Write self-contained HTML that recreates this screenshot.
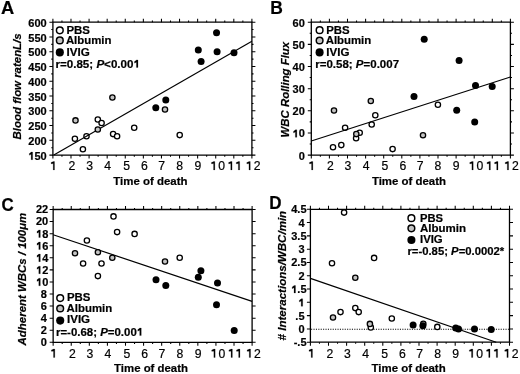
<!DOCTYPE html><html><head><meta charset="utf-8"><style>html,body{margin:0;padding:0;background:#fff;width:520px;height:374px;overflow:hidden}svg{display:block;filter:grayscale(1) blur(0.4px)}text,.g1{stroke:#000;stroke-width:0.2px;vector-effect:non-scaling-stroke}</style></head><body>
<svg width="520" height="374" viewBox="0 0 520 374" font-family='"Liberation Sans", sans-serif'>
<rect width="520" height="374" fill="#fff"/>
<path d="M52.9,22.2H251.9V155.1H52.9Z" fill="none" stroke="#000" stroke-width="1.3"/><path d="M52.90,155.1v3.5M52.90,22.2v-3.5M61.95,155.1v1.6M61.95,22.2v-1.6M70.99,155.1v3.5M70.99,22.2v-3.5M80.04,155.1v1.6M80.04,22.2v-1.6M89.08,155.1v3.5M89.08,22.2v-3.5M98.13,155.1v1.6M98.13,22.2v-1.6M107.17,155.1v3.5M107.17,22.2v-3.5M116.22,155.1v1.6M116.22,22.2v-1.6M125.26,155.1v3.5M125.26,22.2v-3.5M134.31,155.1v1.6M134.31,22.2v-1.6M143.35,155.1v3.5M143.35,22.2v-3.5M152.40,155.1v1.6M152.40,22.2v-1.6M161.45,155.1v3.5M161.45,22.2v-3.5M170.49,155.1v1.6M170.49,22.2v-1.6M179.54,155.1v3.5M179.54,22.2v-3.5M188.58,155.1v1.6M188.58,22.2v-1.6M197.63,155.1v3.5M197.63,22.2v-3.5M206.67,155.1v1.6M206.67,22.2v-1.6M215.72,155.1v3.5M215.72,22.2v-3.5M224.76,155.1v1.6M224.76,22.2v-1.6M233.81,155.1v3.5M233.81,22.2v-3.5M242.85,155.1v1.6M242.85,22.2v-1.6M251.90,155.1v3.5M251.90,22.2v-3.5M52.9,155.10h-3.5M251.9,155.10h3.5M52.9,140.33h-3.5M251.9,140.33h3.5M52.9,125.57h-3.5M251.9,125.57h3.5M52.9,110.80h-3.5M251.9,110.80h3.5M52.9,96.03h-3.5M251.9,96.03h3.5M52.9,81.27h-3.5M251.9,81.27h3.5M52.9,66.50h-3.5M251.9,66.50h3.5M52.9,51.73h-3.5M251.9,51.73h3.5M52.9,36.97h-3.5M251.9,36.97h3.5M52.9,22.20h-3.5M251.9,22.20h3.5M52.9,147.72h-1.6M251.9,147.72h1.6M52.9,132.95h-1.6M251.9,132.95h1.6M52.9,118.18h-1.6M251.9,118.18h1.6M52.9,103.42h-1.6M251.9,103.42h1.6M52.9,88.65h-1.6M251.9,88.65h1.6M52.9,73.88h-1.6M251.9,73.88h1.6M52.9,59.12h-1.6M251.9,59.12h1.6M52.9,44.35h-1.6M251.9,44.35h1.6M52.9,29.58h-1.6M251.9,29.58h1.6" fill="none" stroke="#000" stroke-width="1.05"/>
<path class="g1" transform="translate(28.35,159.65) scale(0.00537,-0.00537)" d="M520 0V1000Q330 900 180 814V1130Q380 1230 540 1409H800V0Z"/><text x="34.46" y="159.65" font-size="11" font-weight="bold">50</text>
<text x="28.35" y="144.88" font-size="11" font-weight="bold">200</text>
<text x="28.35" y="130.12" font-size="11" font-weight="bold">250</text>
<text x="28.35" y="115.35" font-size="11" font-weight="bold">300</text>
<text x="28.35" y="100.58" font-size="11" font-weight="bold">350</text>
<text x="28.35" y="85.82" font-size="11" font-weight="bold">400</text>
<text x="28.35" y="71.05" font-size="11" font-weight="bold">450</text>
<text x="28.35" y="56.28" font-size="11" font-weight="bold">500</text>
<text x="28.35" y="41.52" font-size="11" font-weight="bold">550</text>
<text x="28.35" y="26.75" font-size="11" font-weight="bold">600</text>
<path class="g1" transform="translate(49.66,169.90) scale(0.00596,-0.00596)" d="M595 0V1060Q420 1030 233 1030V1250Q430 1290 610 1409H813V0Z"/><path class="g1" transform="translate(210.01,169.90) scale(0.00596,-0.00596)" d="M595 0V1060Q420 1030 233 1030V1250Q430 1290 610 1409H813V0Z"/><path class="g1" transform="translate(227.21,169.90) scale(0.00596,-0.00596)" d="M595 0V1060Q420 1030 233 1030V1250Q430 1290 610 1409H813V0Z"/><path class="g1" transform="translate(234.81,169.90) scale(0.00596,-0.00596)" d="M595 0V1060Q420 1030 233 1030V1250Q430 1290 610 1409H813V0Z"/><path class="g1" transform="translate(245.41,169.90) scale(0.00596,-0.00596)" d="M595 0V1060Q420 1030 233 1030V1250Q430 1290 610 1409H813V0Z"/><text x="72.00" y="169.90" font-size="12.2" text-anchor="middle">2</text><text x="89.55" y="169.90" font-size="12.2" text-anchor="middle">3</text><text x="107.70" y="169.90" font-size="12.2" text-anchor="middle">4</text><text x="126.60" y="169.90" font-size="12.2" text-anchor="middle">5</text><text x="144.45" y="169.90" font-size="12.2" text-anchor="middle">6</text><text x="161.70" y="169.90" font-size="12.2" text-anchor="middle">7</text><text x="179.60" y="169.90" font-size="12.2" text-anchor="middle">8</text><text x="197.80" y="169.90" font-size="12.2" text-anchor="middle">9</text><text x="221.60" y="169.90" font-size="12.2" text-anchor="middle">0</text><text x="257.10" y="169.90" font-size="12.2" text-anchor="middle">2</text>
<g transform="translate(113.30,184.70) scale(1.0411,1.0000)"><text font-size="11" font-weight="bold">Time of death</text></g>
<g transform="translate(0.90,13.80) scale(1.0000,1.0000)"><text font-size="18.3" font-weight="bold">A</text></g>
<g transform="translate(21.40,139.40) rotate(-90) scale(1.0038,1)"><text font-size="11.4" font-weight="bold" font-style="italic">Blood flow ratenL/s</text></g>
<path d="M311.3,22.2H510.4V155.1H311.3Z" fill="none" stroke="#000" stroke-width="1.3"/><path d="M311.30,155.1v3.5M311.30,22.2v-3.5M320.35,155.1v1.6M320.35,22.2v-1.6M329.40,155.1v3.5M329.40,22.2v-3.5M338.45,155.1v1.6M338.45,22.2v-1.6M347.50,155.1v3.5M347.50,22.2v-3.5M356.55,155.1v1.6M356.55,22.2v-1.6M365.60,155.1v3.5M365.60,22.2v-3.5M374.65,155.1v1.6M374.65,22.2v-1.6M383.70,155.1v3.5M383.70,22.2v-3.5M392.75,155.1v1.6M392.75,22.2v-1.6M401.80,155.1v3.5M401.80,22.2v-3.5M410.85,155.1v1.6M410.85,22.2v-1.6M419.90,155.1v3.5M419.90,22.2v-3.5M428.95,155.1v1.6M428.95,22.2v-1.6M438.00,155.1v3.5M438.00,22.2v-3.5M447.05,155.1v1.6M447.05,22.2v-1.6M456.10,155.1v3.5M456.10,22.2v-3.5M465.15,155.1v1.6M465.15,22.2v-1.6M474.20,155.1v3.5M474.20,22.2v-3.5M483.25,155.1v1.6M483.25,22.2v-1.6M492.30,155.1v3.5M492.30,22.2v-3.5M501.35,155.1v1.6M501.35,22.2v-1.6M510.40,155.1v3.5M510.40,22.2v-3.5M311.3,155.10h-3.5M510.4,155.10h3.5M311.3,132.95h-3.5M510.4,132.95h3.5M311.3,110.80h-3.5M510.4,110.80h3.5M311.3,88.65h-3.5M510.4,88.65h3.5M311.3,66.50h-3.5M510.4,66.50h3.5M311.3,44.35h-3.5M510.4,44.35h3.5M311.3,22.20h-3.5M510.4,22.20h3.5M311.3,144.03h-1.6M510.4,144.03h1.6M311.3,121.88h-1.6M510.4,121.88h1.6M311.3,99.72h-1.6M510.4,99.72h1.6M311.3,77.57h-1.6M510.4,77.57h1.6M311.3,55.42h-1.6M510.4,55.42h1.6M311.3,33.27h-1.6M510.4,33.27h1.6" fill="none" stroke="#000" stroke-width="1.05"/>
<text x="298.68" y="159.50" font-size="11" font-weight="bold">0</text>
<path class="g1" transform="translate(292.56,137.35) scale(0.00537,-0.00537)" d="M520 0V1000Q330 900 180 814V1130Q380 1230 540 1409H800V0Z"/><text x="298.68" y="137.35" font-size="11" font-weight="bold">0</text>
<text x="292.56" y="115.20" font-size="11" font-weight="bold">20</text>
<text x="292.56" y="93.05" font-size="11" font-weight="bold">30</text>
<text x="292.56" y="70.90" font-size="11" font-weight="bold">40</text>
<text x="292.56" y="48.75" font-size="11" font-weight="bold">50</text>
<text x="292.56" y="26.60" font-size="11" font-weight="bold">60</text>
<path class="g1" transform="translate(308.01,169.90) scale(0.00596,-0.00596)" d="M595 0V1060Q420 1030 233 1030V1250Q430 1290 610 1409H813V0Z"/><path class="g1" transform="translate(468.36,169.90) scale(0.00596,-0.00596)" d="M595 0V1060Q420 1030 233 1030V1250Q430 1290 610 1409H813V0Z"/><path class="g1" transform="translate(485.56,169.90) scale(0.00596,-0.00596)" d="M595 0V1060Q420 1030 233 1030V1250Q430 1290 610 1409H813V0Z"/><path class="g1" transform="translate(493.16,169.90) scale(0.00596,-0.00596)" d="M595 0V1060Q420 1030 233 1030V1250Q430 1290 610 1409H813V0Z"/><path class="g1" transform="translate(503.76,169.90) scale(0.00596,-0.00596)" d="M595 0V1060Q420 1030 233 1030V1250Q430 1290 610 1409H813V0Z"/><text x="330.35" y="169.90" font-size="12.2" text-anchor="middle">2</text><text x="347.90" y="169.90" font-size="12.2" text-anchor="middle">3</text><text x="366.05" y="169.90" font-size="12.2" text-anchor="middle">4</text><text x="384.95" y="169.90" font-size="12.2" text-anchor="middle">5</text><text x="402.80" y="169.90" font-size="12.2" text-anchor="middle">6</text><text x="420.05" y="169.90" font-size="12.2" text-anchor="middle">7</text><text x="437.95" y="169.90" font-size="12.2" text-anchor="middle">8</text><text x="456.15" y="169.90" font-size="12.2" text-anchor="middle">9</text><text x="479.95" y="169.90" font-size="12.2" text-anchor="middle">0</text><text x="515.45" y="169.90" font-size="12.2" text-anchor="middle">2</text>
<g transform="translate(371.90,184.60) scale(1.0397,1.0000)"><text font-size="11" font-weight="bold">Time of death</text></g>
<g transform="translate(270.25,13.60) scale(0.9554,1.0000)"><text font-size="18.3" font-weight="bold">B</text></g>
<g transform="translate(289.00,137.40) rotate(-90) scale(1.0000,1)"><text font-size="11.4" font-weight="bold" font-style="italic">WBC Rolling Flux</text></g>
<path d="M53.15,209.5H252.1V342.3H53.15Z" fill="none" stroke="#000" stroke-width="1.3"/><path d="M53.15,342.3v3.5M53.15,209.5v-3.5M62.19,342.3v1.6M62.19,209.5v-1.6M71.24,342.3v3.5M71.24,209.5v-3.5M80.28,342.3v1.6M80.28,209.5v-1.6M89.32,342.3v3.5M89.32,209.5v-3.5M98.37,342.3v1.6M98.37,209.5v-1.6M107.41,342.3v3.5M107.41,209.5v-3.5M116.45,342.3v1.6M116.45,209.5v-1.6M125.50,342.3v3.5M125.50,209.5v-3.5M134.54,342.3v1.6M134.54,209.5v-1.6M143.58,342.3v3.5M143.58,209.5v-3.5M152.62,342.3v1.6M152.62,209.5v-1.6M161.67,342.3v3.5M161.67,209.5v-3.5M170.71,342.3v1.6M170.71,209.5v-1.6M179.75,342.3v3.5M179.75,209.5v-3.5M188.80,342.3v1.6M188.80,209.5v-1.6M197.84,342.3v3.5M197.84,209.5v-3.5M206.88,342.3v1.6M206.88,209.5v-1.6M215.93,342.3v3.5M215.93,209.5v-3.5M224.97,342.3v1.6M224.97,209.5v-1.6M234.01,342.3v3.5M234.01,209.5v-3.5M243.06,342.3v1.6M243.06,209.5v-1.6M252.10,342.3v3.5M252.10,209.5v-3.5M53.15,342.30h-3.5M252.1,342.30h3.5M53.15,330.23h-3.5M252.1,330.23h3.5M53.15,318.15h-3.5M252.1,318.15h3.5M53.15,306.08h-3.5M252.1,306.08h3.5M53.15,294.01h-3.5M252.1,294.01h3.5M53.15,281.94h-3.5M252.1,281.94h3.5M53.15,269.86h-3.5M252.1,269.86h3.5M53.15,257.79h-3.5M252.1,257.79h3.5M53.15,245.72h-3.5M252.1,245.72h3.5M53.15,233.65h-3.5M252.1,233.65h3.5M53.15,221.57h-3.5M252.1,221.57h3.5M53.15,209.50h-3.5M252.1,209.50h3.5" fill="none" stroke="#000" stroke-width="1.05"/>
<text x="40.63" y="346.15" font-size="11" font-weight="bold">0</text>
<text x="40.63" y="334.08" font-size="11" font-weight="bold">2</text>
<text x="40.63" y="322.00" font-size="11" font-weight="bold">4</text>
<text x="40.63" y="309.93" font-size="11" font-weight="bold">6</text>
<text x="40.63" y="297.86" font-size="11" font-weight="bold">8</text>
<path class="g1" transform="translate(36.01,285.79) scale(0.00537,-0.00537)" d="M520 0V1000Q330 900 180 814V1130Q380 1230 540 1409H800V0Z"/><text x="42.13" y="285.79" font-size="11" font-weight="bold">0</text>
<path class="g1" transform="translate(36.01,273.71) scale(0.00537,-0.00537)" d="M520 0V1000Q330 900 180 814V1130Q380 1230 540 1409H800V0Z"/><text x="42.13" y="273.71" font-size="11" font-weight="bold">2</text>
<path class="g1" transform="translate(36.01,261.64) scale(0.00537,-0.00537)" d="M520 0V1000Q330 900 180 814V1130Q380 1230 540 1409H800V0Z"/><text x="42.13" y="261.64" font-size="11" font-weight="bold">4</text>
<path class="g1" transform="translate(36.01,249.57) scale(0.00537,-0.00537)" d="M520 0V1000Q330 900 180 814V1130Q380 1230 540 1409H800V0Z"/><text x="42.13" y="249.57" font-size="11" font-weight="bold">6</text>
<path class="g1" transform="translate(36.01,237.50) scale(0.00537,-0.00537)" d="M520 0V1000Q330 900 180 814V1130Q380 1230 540 1409H800V0Z"/><text x="42.13" y="237.50" font-size="11" font-weight="bold">8</text>
<text x="36.01" y="225.42" font-size="11" font-weight="bold">20</text>
<text x="36.01" y="213.35" font-size="11" font-weight="bold">22</text>
<path class="g1" transform="translate(49.96,357.50) scale(0.00596,-0.00596)" d="M595 0V1060Q420 1030 233 1030V1250Q430 1290 610 1409H813V0Z"/><path class="g1" transform="translate(210.31,357.50) scale(0.00596,-0.00596)" d="M595 0V1060Q420 1030 233 1030V1250Q430 1290 610 1409H813V0Z"/><path class="g1" transform="translate(227.51,357.50) scale(0.00596,-0.00596)" d="M595 0V1060Q420 1030 233 1030V1250Q430 1290 610 1409H813V0Z"/><path class="g1" transform="translate(235.11,357.50) scale(0.00596,-0.00596)" d="M595 0V1060Q420 1030 233 1030V1250Q430 1290 610 1409H813V0Z"/><path class="g1" transform="translate(245.71,357.50) scale(0.00596,-0.00596)" d="M595 0V1060Q420 1030 233 1030V1250Q430 1290 610 1409H813V0Z"/><text x="72.30" y="357.50" font-size="12.2" text-anchor="middle">2</text><text x="89.85" y="357.50" font-size="12.2" text-anchor="middle">3</text><text x="108.00" y="357.50" font-size="12.2" text-anchor="middle">4</text><text x="126.90" y="357.50" font-size="12.2" text-anchor="middle">5</text><text x="144.75" y="357.50" font-size="12.2" text-anchor="middle">6</text><text x="162.00" y="357.50" font-size="12.2" text-anchor="middle">7</text><text x="179.90" y="357.50" font-size="12.2" text-anchor="middle">8</text><text x="198.10" y="357.50" font-size="12.2" text-anchor="middle">9</text><text x="221.90" y="357.50" font-size="12.2" text-anchor="middle">0</text><text x="257.40" y="357.50" font-size="12.2" text-anchor="middle">2</text>
<g transform="translate(114.10,371.90) scale(1.0369,1.0000)"><text font-size="11" font-weight="bold">Time of death</text></g>
<g transform="translate(1.56,210.50) scale(0.9244,1.0000)"><text font-size="18.3" font-weight="bold">C</text></g>
<g transform="translate(26.00,345.40) rotate(-90) scale(1.0045,1)"><text font-size="11.4" font-weight="bold" font-style="italic">Adherent WBCs / 100μm</text></g>
<path d="M310.4,209.3H509.5V342.2H310.4Z" fill="none" stroke="#000" stroke-width="1.3"/><path d="M310.40,342.2v3.5M310.40,209.3v-3.5M319.45,342.2v1.6M319.45,209.3v-1.6M328.50,342.2v3.5M328.50,209.3v-3.5M337.55,342.2v1.6M337.55,209.3v-1.6M346.60,342.2v3.5M346.60,209.3v-3.5M355.65,342.2v1.6M355.65,209.3v-1.6M364.70,342.2v3.5M364.70,209.3v-3.5M373.75,342.2v1.6M373.75,209.3v-1.6M382.80,342.2v3.5M382.80,209.3v-3.5M391.85,342.2v1.6M391.85,209.3v-1.6M400.90,342.2v3.5M400.90,209.3v-3.5M409.95,342.2v1.6M409.95,209.3v-1.6M419.00,342.2v3.5M419.00,209.3v-3.5M428.05,342.2v1.6M428.05,209.3v-1.6M437.10,342.2v3.5M437.10,209.3v-3.5M446.15,342.2v1.6M446.15,209.3v-1.6M455.20,342.2v3.5M455.20,209.3v-3.5M464.25,342.2v1.6M464.25,209.3v-1.6M473.30,342.2v3.5M473.30,209.3v-3.5M482.35,342.2v1.6M482.35,209.3v-1.6M491.40,342.2v3.5M491.40,209.3v-3.5M500.45,342.2v1.6M500.45,209.3v-1.6M509.50,342.2v3.5M509.50,209.3v-3.5M310.4,342.20h-3.5M509.5,342.20h3.5M310.4,328.91h-3.5M509.5,328.91h3.5M310.4,315.62h-3.5M509.5,315.62h3.5M310.4,302.33h-3.5M509.5,302.33h3.5M310.4,289.04h-3.5M509.5,289.04h3.5M310.4,275.75h-3.5M509.5,275.75h3.5M310.4,262.46h-3.5M509.5,262.46h3.5M310.4,249.17h-3.5M509.5,249.17h3.5M310.4,235.88h-3.5M509.5,235.88h3.5M310.4,222.59h-3.5M509.5,222.59h3.5M310.4,209.30h-3.5M509.5,209.30h3.5" fill="none" stroke="#000" stroke-width="1.05"/>
<text x="293.66" y="346.20" font-size="11" font-weight="bold">-.5</text>
<text x="298.38" y="332.91" font-size="11" font-weight="bold">0</text>
<text x="295.33" y="319.62" font-size="11" font-weight="bold">.5</text>
<path class="g1" transform="translate(298.38,306.33) scale(0.00537,-0.00537)" d="M520 0V1000Q330 900 180 814V1130Q380 1230 540 1409H800V0Z"/>
<path class="g1" transform="translate(291.21,293.04) scale(0.00537,-0.00537)" d="M520 0V1000Q330 900 180 814V1130Q380 1230 540 1409H800V0Z"/><text x="297.33" y="293.04" font-size="11" font-weight="bold">.5</text>
<text x="298.38" y="279.75" font-size="11" font-weight="bold">2</text>
<text x="291.21" y="266.46" font-size="11" font-weight="bold">2.5</text>
<text x="298.38" y="253.17" font-size="11" font-weight="bold">3</text>
<text x="291.21" y="239.88" font-size="11" font-weight="bold">3.5</text>
<text x="298.38" y="226.59" font-size="11" font-weight="bold">4</text>
<text x="291.21" y="213.30" font-size="11" font-weight="bold">4.5</text>
<path class="g1" transform="translate(307.61,357.50) scale(0.00596,-0.00596)" d="M595 0V1060Q420 1030 233 1030V1250Q430 1290 610 1409H813V0Z"/><path class="g1" transform="translate(467.96,357.50) scale(0.00596,-0.00596)" d="M595 0V1060Q420 1030 233 1030V1250Q430 1290 610 1409H813V0Z"/><path class="g1" transform="translate(485.16,357.50) scale(0.00596,-0.00596)" d="M595 0V1060Q420 1030 233 1030V1250Q430 1290 610 1409H813V0Z"/><path class="g1" transform="translate(492.76,357.50) scale(0.00596,-0.00596)" d="M595 0V1060Q420 1030 233 1030V1250Q430 1290 610 1409H813V0Z"/><path class="g1" transform="translate(503.36,357.50) scale(0.00596,-0.00596)" d="M595 0V1060Q420 1030 233 1030V1250Q430 1290 610 1409H813V0Z"/><text x="329.95" y="357.50" font-size="12.2" text-anchor="middle">2</text><text x="347.50" y="357.50" font-size="12.2" text-anchor="middle">3</text><text x="365.65" y="357.50" font-size="12.2" text-anchor="middle">4</text><text x="384.55" y="357.50" font-size="12.2" text-anchor="middle">5</text><text x="402.40" y="357.50" font-size="12.2" text-anchor="middle">6</text><text x="419.65" y="357.50" font-size="12.2" text-anchor="middle">7</text><text x="437.55" y="357.50" font-size="12.2" text-anchor="middle">8</text><text x="455.75" y="357.50" font-size="12.2" text-anchor="middle">9</text><text x="479.55" y="357.50" font-size="12.2" text-anchor="middle">0</text><text x="515.05" y="357.50" font-size="12.2" text-anchor="middle">2</text>
<g transform="translate(371.50,371.70) scale(1.0411,1.0000)"><text font-size="11" font-weight="bold">Time of death</text></g>
<g transform="translate(269.19,208.60) scale(0.9286,1.0000)"><text font-size="18.3" font-weight="bold">D</text></g>
<g transform="translate(286.30,340.41) rotate(-90) scale(1.0134,1)"><text font-size="11.4" font-weight="bold" font-style="italic"># Interactions/WBC/min</text></g>
<path d="M311.1,329.25H509" stroke="#000" stroke-width="1" stroke-dasharray="1.1 1.3" fill="none"/>
<circle cx="74.9" cy="138.7" r="2.65" fill="#fff" stroke="#000" stroke-width="1.3"/>
<circle cx="82.9" cy="149.3" r="2.65" fill="#fff" stroke="#000" stroke-width="1.3"/>
<circle cx="86.5" cy="136.2" r="2.65" fill="#fff" stroke="#000" stroke-width="1.3"/>
<circle cx="97.8" cy="119.5" r="2.65" fill="#fff" stroke="#000" stroke-width="1.3"/>
<circle cx="101.6" cy="123.0" r="2.65" fill="#fff" stroke="#000" stroke-width="1.3"/>
<circle cx="113.1" cy="134.1" r="2.65" fill="#fff" stroke="#000" stroke-width="1.3"/>
<circle cx="117.1" cy="136.3" r="2.65" fill="#fff" stroke="#000" stroke-width="1.3"/>
<circle cx="134.2" cy="127.7" r="2.65" fill="#fff" stroke="#000" stroke-width="1.3"/>
<circle cx="179.7" cy="135.1" r="2.65" fill="#fff" stroke="#000" stroke-width="1.3"/>
<circle cx="333.0" cy="147.3" r="2.65" fill="#fff" stroke="#000" stroke-width="1.3"/>
<circle cx="341.3" cy="145.1" r="2.65" fill="#fff" stroke="#000" stroke-width="1.3"/>
<circle cx="345.1" cy="127.7" r="2.65" fill="#fff" stroke="#000" stroke-width="1.3"/>
<circle cx="356.1" cy="138.3" r="2.65" fill="#fff" stroke="#000" stroke-width="1.3"/>
<circle cx="359.7" cy="132.7" r="2.65" fill="#fff" stroke="#000" stroke-width="1.3"/>
<circle cx="371.7" cy="124.5" r="2.65" fill="#fff" stroke="#000" stroke-width="1.3"/>
<circle cx="375.3" cy="115.2" r="2.65" fill="#fff" stroke="#000" stroke-width="1.3"/>
<circle cx="392.6" cy="149.1" r="2.65" fill="#fff" stroke="#000" stroke-width="1.3"/>
<circle cx="437.9" cy="104.8" r="2.65" fill="#fff" stroke="#000" stroke-width="1.3"/>
<circle cx="83.1" cy="263.5" r="2.65" fill="#fff" stroke="#000" stroke-width="1.3"/>
<circle cx="86.9" cy="240.5" r="2.65" fill="#fff" stroke="#000" stroke-width="1.3"/>
<circle cx="97.9" cy="276.1" r="2.65" fill="#fff" stroke="#000" stroke-width="1.3"/>
<circle cx="101.5" cy="263.5" r="2.65" fill="#fff" stroke="#000" stroke-width="1.3"/>
<circle cx="113.5" cy="216.4" r="2.65" fill="#fff" stroke="#000" stroke-width="1.3"/>
<circle cx="117.1" cy="232.1" r="2.65" fill="#fff" stroke="#000" stroke-width="1.3"/>
<circle cx="134.6" cy="233.9" r="2.65" fill="#fff" stroke="#000" stroke-width="1.3"/>
<circle cx="179.7" cy="257.7" r="2.65" fill="#fff" stroke="#000" stroke-width="1.3"/>
<circle cx="344.1" cy="212.6" r="2.65" fill="#fff" stroke="#000" stroke-width="1.3"/>
<circle cx="332.0" cy="263.3" r="2.65" fill="#fff" stroke="#000" stroke-width="1.3"/>
<circle cx="374.1" cy="257.9" r="2.65" fill="#fff" stroke="#000" stroke-width="1.3"/>
<circle cx="340.5" cy="312.1" r="2.65" fill="#fff" stroke="#000" stroke-width="1.3"/>
<circle cx="355.3" cy="308.1" r="2.65" fill="#fff" stroke="#000" stroke-width="1.3"/>
<circle cx="358.7" cy="312.1" r="2.65" fill="#fff" stroke="#000" stroke-width="1.3"/>
<circle cx="370.8" cy="327.4" r="2.65" fill="#fff" stroke="#000" stroke-width="1.3"/>
<circle cx="391.8" cy="318.5" r="2.65" fill="#fff" stroke="#000" stroke-width="1.3"/>
<circle cx="437.3" cy="326.9" r="2.65" fill="#fff" stroke="#000" stroke-width="1.3"/>
<path d="M53.8,155.1L251.9,41.25" stroke="#000" stroke-width="1.2" fill="none"/>
<path d="M311.3,141.0L510.4,77.0" stroke="#000" stroke-width="1.2" fill="none"/>
<path d="M53.15,234.7L252.1,301.4" stroke="#000" stroke-width="1.2" fill="none"/>
<path d="M310.4,278.4L496.2,342.2" stroke="#000" stroke-width="1.2" fill="none"/>
<circle cx="75.5" cy="120.4" r="2.65" fill="#c4c4c4" stroke="#000" stroke-width="1.3"/>
<circle cx="97.8" cy="129.5" r="2.65" fill="#c4c4c4" stroke="#000" stroke-width="1.3"/>
<circle cx="112.4" cy="97.5" r="2.65" fill="#c4c4c4" stroke="#000" stroke-width="1.3"/>
<circle cx="165.0" cy="109.5" r="2.65" fill="#c4c4c4" stroke="#000" stroke-width="1.3"/>
<circle cx="155.8" cy="107.7" r="3.5" fill="#000"/>
<circle cx="165.8" cy="100.0" r="3.5" fill="#000"/>
<circle cx="198.3" cy="50.1" r="3.5" fill="#000"/>
<circle cx="201.1" cy="61.5" r="3.5" fill="#000"/>
<circle cx="216.55" cy="32.85" r="3.5" fill="#000"/>
<circle cx="217.1" cy="51.7" r="3.5" fill="#000"/>
<circle cx="234.0" cy="52.7" r="3.5" fill="#000"/>
<circle cx="334.0" cy="110.5" r="2.65" fill="#c4c4c4" stroke="#000" stroke-width="1.3"/>
<circle cx="356.3" cy="134.1" r="2.65" fill="#c4c4c4" stroke="#000" stroke-width="1.3"/>
<circle cx="370.8" cy="101.0" r="2.65" fill="#c4c4c4" stroke="#000" stroke-width="1.3"/>
<circle cx="423.0" cy="135.3" r="2.65" fill="#c4c4c4" stroke="#000" stroke-width="1.3"/>
<circle cx="414.0" cy="96.6" r="3.5" fill="#000"/>
<circle cx="424.2" cy="39.3" r="3.5" fill="#000"/>
<circle cx="456.7" cy="110.3" r="3.5" fill="#000"/>
<circle cx="459.1" cy="60.5" r="3.5" fill="#000"/>
<circle cx="474.7" cy="122.1" r="3.5" fill="#000"/>
<circle cx="475.5" cy="85.4" r="3.5" fill="#000"/>
<circle cx="492.2" cy="86.4" r="3.5" fill="#000"/>
<circle cx="75.0" cy="253.3" r="2.65" fill="#c4c4c4" stroke="#000" stroke-width="1.3"/>
<circle cx="97.9" cy="252.3" r="2.65" fill="#c4c4c4" stroke="#000" stroke-width="1.3"/>
<circle cx="112.3" cy="257.7" r="2.65" fill="#c4c4c4" stroke="#000" stroke-width="1.3"/>
<circle cx="165.0" cy="261.5" r="2.65" fill="#c4c4c4" stroke="#000" stroke-width="1.3"/>
<circle cx="156.0" cy="279.8" r="3.5" fill="#000"/>
<circle cx="165.8" cy="285.4" r="3.5" fill="#000"/>
<circle cx="198.3" cy="277.2" r="3.5" fill="#000"/>
<circle cx="200.9" cy="270.7" r="3.5" fill="#000"/>
<circle cx="217.5" cy="283.0" r="3.5" fill="#000"/>
<circle cx="216.5" cy="304.7" r="3.5" fill="#000"/>
<circle cx="234.2" cy="330.5" r="3.5" fill="#000"/>
<circle cx="355.3" cy="277.8" r="2.65" fill="#c4c4c4" stroke="#000" stroke-width="1.3"/>
<circle cx="333.0" cy="317.5" r="2.65" fill="#c4c4c4" stroke="#000" stroke-width="1.3"/>
<circle cx="369.9" cy="323.9" r="2.65" fill="#c4c4c4" stroke="#000" stroke-width="1.3"/>
<circle cx="423.3" cy="323.8" r="2.65" fill="#c4c4c4" stroke="#000" stroke-width="1.3"/>
<circle cx="413.1" cy="325.0" r="3.5" fill="#000"/>
<circle cx="422.9" cy="325.8" r="3.5" fill="#000"/>
<circle cx="455.7" cy="328.1" r="3.5" fill="#000"/>
<circle cx="458.5" cy="329.1" r="3.5" fill="#000"/>
<circle cx="474.5" cy="329.1" r="3.5" fill="#000"/>
<circle cx="491.2" cy="329.5" r="3.5" fill="#000"/>
<circle cx="59.8" cy="30.3" r="3.35" fill="#fff" stroke="#000" stroke-width="1.5"/>
<circle cx="59.8" cy="40.4" r="3.35" fill="#c4c4c4" stroke="#000" stroke-width="1.5"/>
<circle cx="59.8" cy="52.4" r="4.05" fill="#000"/>
<g transform="translate(66.47,33.50) scale(1.0419,1.0000)"><text font-size="11" font-weight="bold">PBS</text></g>
<g transform="translate(65.89,44.00) scale(1.0372,1.0000)"><text font-size="11" font-weight="bold">Albumin</text></g>
<g transform="translate(66.46,55.70) scale(1.0583,1.0000)"><text font-size="11" font-weight="bold">IVIG</text></g>
<g transform="translate(55.46,67.50) scale(1.0541,1.0000)"><text x="0.00" y="0.00" font-size="11" font-weight="bold">r=0.85; </text><text x="38.83" y="0.00" font-size="11" font-weight="bold" font-style="italic">P</text><text x="46.17" y="0.00" font-size="11" font-weight="bold">&lt;0.00</text><path class="g1" transform="translate(74.00,0.00) scale(0.00537,-0.00537)" d="M520 0V1000Q330 900 180 814V1130Q380 1230 540 1409H800V0Z"/></g>
<circle cx="319.6" cy="30.2" r="3.35" fill="#fff" stroke="#000" stroke-width="1.5"/>
<circle cx="319.6" cy="40.5" r="3.35" fill="#c4c4c4" stroke="#000" stroke-width="1.5"/>
<circle cx="319.6" cy="52.4" r="4.05" fill="#000"/>
<g transform="translate(326.27,33.50) scale(1.0372,1.0000)"><text font-size="11" font-weight="bold">PBS</text></g>
<g transform="translate(325.69,44.00) scale(1.0372,1.0000)"><text font-size="11" font-weight="bold">Albumin</text></g>
<g transform="translate(326.26,55.70) scale(1.0534,1.0000)"><text font-size="11" font-weight="bold">IVIG</text></g>
<g transform="translate(315.27,67.50) scale(1.0456,1.0000)"><text x="0.00" y="0.00" font-size="11" font-weight="bold">r=0.58; </text><text x="38.83" y="0.00" font-size="11" font-weight="bold" font-style="italic">P</text><text x="46.17" y="0.00" font-size="11" font-weight="bold">=0.007</text></g>
<circle cx="60.2" cy="298.1" r="3.35" fill="#fff" stroke="#000" stroke-width="1.5"/>
<circle cx="60.2" cy="308.5" r="3.35" fill="#c4c4c4" stroke="#000" stroke-width="1.5"/>
<circle cx="60.2" cy="320.6" r="4.05" fill="#000"/>
<g transform="translate(66.97,301.40) scale(1.0419,1.0000)"><text font-size="11" font-weight="bold">PBS</text></g>
<g transform="translate(66.59,312.10) scale(1.0372,1.0000)"><text font-size="11" font-weight="bold">Albumin</text></g>
<g transform="translate(66.96,323.40) scale(1.0534,1.0000)"><text font-size="11" font-weight="bold">IVIG</text></g>
<g transform="translate(55.97,335.60) scale(1.0406,1.0000)"><text x="0.00" y="0.00" font-size="11" font-weight="bold">r=-0.68; </text><text x="42.50" y="0.00" font-size="11" font-weight="bold" font-style="italic">P</text><text x="49.83" y="0.00" font-size="11" font-weight="bold">=0.00</text><path class="g1" transform="translate(77.67,0.00) scale(0.00537,-0.00537)" d="M520 0V1000Q330 900 180 814V1130Q380 1230 540 1409H800V0Z"/></g>
<circle cx="411.4" cy="218.2" r="3.35" fill="#fff" stroke="#000" stroke-width="1.5"/>
<circle cx="411.4" cy="228.3" r="3.35" fill="#c4c4c4" stroke="#000" stroke-width="1.5"/>
<circle cx="411.4" cy="240.0" r="4.05" fill="#000"/>
<g transform="translate(419.99,221.60) scale(1.0186,1.0000)"><text font-size="11" font-weight="bold">PBS</text></g>
<g transform="translate(419.89,232.30) scale(1.0488,1.0000)"><text font-size="11" font-weight="bold">Albumin</text></g>
<g transform="translate(419.98,243.30) scale(1.0340,1.0000)"><text font-size="11" font-weight="bold">IVIG</text></g>
<g transform="translate(407.38,255.20) scale(1.0289,1.0000)"><text x="0.00" y="0.00" font-size="11" font-weight="bold">r=-0.85; </text><text x="42.50" y="0.00" font-size="11" font-weight="bold" font-style="italic">P</text><text x="49.83" y="0.00" font-size="11" font-weight="bold">=0.0002*</text></g>
</svg></body></html>
